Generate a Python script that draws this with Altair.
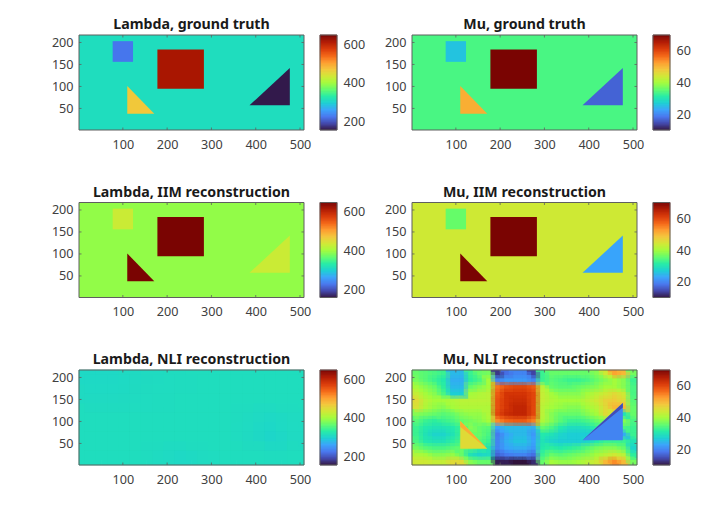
import altair as alt
import pandas as pd

# ---- geometry of the image grid ----
X_DOMAIN = [1, 509]
Y_DOMAIN = [1, 217]
X_TICKS = [100, 200, 300, 400, 500]
Y_TICKS = [50, 100, 150, 200]

# ---- colour limits and colour map stops ----
LAMBDA_DOMAIN = [157, 648]
MU_DOMAIN = [10, 70]
LAMBDA_TICKS = [200, 400, 600]
MU_TICKS = [20, 40, 60]
TURBO = ["#30123b", "#4145ab", "#4675ed", "#39a2fc", "#1bcfd4", "#24eca6", "#61fc6c", "#a4fc3b",
         "#d1e834", "#f3c63a", "#fe9b2d", "#f36315", "#d93806", "#b11901", "#7a0402"]

# ---- shapes in image coordinates ----
SQUARE = [77, 123, 156, 203]
BOX = [178, 283, 95, 184]
TRI1_X = [110, 171]
TRI1_Y = [101, 38]
TRI1_BASE = [38, 38]
TRI2_X = [386, 477]
TRI2_Y = [57, 142]
TRI2_BASE = [57, 57]

# ---- values: background, square, box, triangle 1, triangle 2 ----
LAMBDA_TRUTH = [314, 228, 618, 471, 162]
MU_TRUTH = [34, 26, 70, 51, 17]
LAMBDA_IIM = [393, 432, 648, 648, 432]
MU_IIM = [44, 36, 70, 70, 23]

# ---- Lambda NLI: coarse grid, top row first ----
LAMBDA_NLI = [
    [309, 309, 311, 312, 313, 314, 314, 314, 314, 314],
    [311, 311, 312, 313, 314, 314, 314, 314, 314, 314],
    [314, 314, 314, 314, 314, 314, 314, 312, 309, 312],
    [314, 314, 314, 314, 314, 314, 314, 311, 306, 311],
    [314, 314, 314, 312, 309, 312, 314, 314, 313, 314],
]

# ---- Mu NLI: grid, top row first ----
MU_NLI = [
    [36, 35, 34, 33, 25, 25, 33, 36, 37, 13, 18, 20, 20, 14, 33, 36, 36, 36, 36, 36, 38, 44, 52, 50, 37],
    [37, 35, 33, 31, 24, 24, 32, 34, 40, 20, 22, 22, 22, 20, 33, 35, 34, 33, 33, 34, 36, 38, 40, 38, 33],
    [40, 38, 36, 32, 25, 25, 36, 38, 40, 56, 59, 60, 60, 58, 42, 36, 35, 35, 36, 37, 38, 40, 40, 38, 34],
    [43, 40, 38, 34, 27, 27, 40, 41, 42, 58, 62, 62, 62, 60, 43, 40, 38, 38, 38, 40, 42, 44, 46, 44, 34],
    [46, 42, 40, 40, 41, 42, 42, 42, 42, 59, 62, 63, 63, 60, 43, 41, 40, 40, 40, 42, 44, 47, 48, 46, 35],
    [45, 41, 39, 38, 40, 41, 41, 41, 41, 59, 62, 64, 64, 60, 42, 40, 39, 38, 38, 40, 42, 46, 50, 50, 36],
    [38, 37, 36, 35, 36, 38, 39, 39, 41, 60, 63, 64, 64, 60, 42, 38, 36, 36, 36, 38, 40, 46, 44, 30, 36],
    [35, 33, 32, 33, 34, 36, 37, 38, 40, 54, 57, 58, 58, 55, 41, 38, 35, 33, 33, 34, 36, 38, 38, 38, 34],
    [33, 31, 30, 30, 31, 33, 38, 36, 35, 23, 25, 25, 25, 24, 36, 34, 31, 29, 29, 30, 32, 34, 34, 34, 33],
    [33, 30, 28, 28, 30, 33, 36, 36, 34, 19, 23, 25, 25, 22, 31, 30, 28, 27, 27, 27, 26, 24, 24, 24, 33],
    [34, 31, 30, 30, 32, 34, 35, 35, 33, 20, 24, 26, 26, 23, 30, 28, 27, 27, 27, 28, 31, 33, 33, 33, 30],
    [37, 35, 34, 34, 35, 36, 34, 32, 30, 20, 23, 24, 24, 22, 31, 32, 31, 32, 33, 35, 37, 38, 38, 36, 28],
    [41, 40, 38, 38, 39, 36, 30, 28, 29, 17, 19, 20, 20, 18, 33, 36, 35, 36, 37, 38, 40, 42, 44, 42, 32],
    [44, 44, 43, 43, 46, 46, 38, 36, 36, 11, 11, 10, 10, 12, 36, 40, 39, 39, 40, 42, 44, 50, 54, 50, 37],
]
# Mu NLI: triangle details
MU_NLI_TRI1 = 46
MU_NLI_TRI2 = 20
MU_NLI_TRI1_EDGE = [[101, 38], [88, 38], 51]
MU_NLI_TRI2_EDGE = [[57, 142], [57, 132], 15]

FONT = "Noto Sans"
TEXT = "#404040"
FRAME = "#5f5f5f"
W, H = 225, 95
GAP, CW, TICK = 16, 17, 2.5


def grid_frame(rows, shift=0.0):
    nr, nc = len(rows), len(rows[0])
    dx = (X_DOMAIN[1] - X_DOMAIN[0]) / nc
    dy = (Y_DOMAIN[1] - Y_DOMAIN[0]) / nr
    out = []
    for r, row in enumerate(rows):
        for c, v in enumerate(row):
            out.append({
                "x0": X_DOMAIN[0] + (c + shift) * dx, "x1": X_DOMAIN[0] + (c + 1 + shift) * dx,
                "y1": Y_DOMAIN[1] - (r + shift) * dy, "y0": Y_DOMAIN[1] - (r + 1 + shift) * dy,
                "v": v,
            })
    return pd.DataFrame(out)


def rect_frame(values):
    bg, sq, bx = values[:3]
    return pd.DataFrame([
        {"x0": X_DOMAIN[0], "x1": X_DOMAIN[1], "y0": Y_DOMAIN[0], "y1": Y_DOMAIN[1], "v": bg},
        {"x0": SQUARE[0], "x1": SQUARE[1], "y0": SQUARE[2], "y1": SQUARE[3], "v": sq},
        {"x0": BOX[0], "x1": BOX[1], "y0": BOX[2], "y1": BOX[3], "v": bx},
    ])


def panel(title, cells, domain, ticks, tris=None, seam=0, soft=()):
    xscale = alt.Scale(domain=X_DOMAIN, nice=False, zero=False)
    yscale = alt.Scale(domain=Y_DOMAIN, nice=False, zero=False)
    stops = [domain[0] + (domain[1] - domain[0]) * i / (len(TURBO) - 1) for i in range(len(TURBO))]
    cscale = alt.Scale(domain=stops, range=TURBO, clamp=True, interpolate="rgb")
    color = alt.Color("v:Q", scale=cscale, legend=None)
    xaxis = alt.Axis(values=X_TICKS, tickSize=0, domain=False, grid=False, labelPadding=8)
    layers = [alt.Chart(cells).mark_rect(strokeWidth=seam).encode(
        x=alt.X("x0:Q", scale=xscale, title=None, axis=xaxis),
        x2="x1:Q",
        y=alt.Y("y0:Q", scale=yscale, title=None,
                axis=alt.Axis(values=Y_TICKS, tickSize=0, domain=False, grid=False, labelPadding=6)),
        y2="y1:Q",
        color=color,
        stroke=alt.Stroke("v:Q", scale=cscale, legend=None),
    )]
    # the same grid, a quarter cell to either side, softens the cell edges
    for frame, alpha in soft:
        layers.append(alt.Chart(frame).mark_rect(strokeWidth=0, opacity=alpha, clip=True).encode(
            x=alt.X("x0:Q", scale=xscale, title=None, axis=xaxis),
            x2="x1:Q",
            y=alt.Y("y0:Q", scale=yscale, axis=None),
            y2="y1:Q",
            color=color,
        ))
    for xs, ys, base, v in (tris or []):
        df = pd.DataFrame({"x": xs, "y": ys, "b": base, "v": [v, v]})
        layers.append(alt.Chart(df).mark_area(orient="vertical", interpolate="linear", opacity=1).encode(
            x=alt.X("x:Q", scale=xscale, title=None, axis=xaxis),
            y=alt.Y("y:Q", scale=yscale, axis=None),
            y2="b:Q",
            color=color,
        ))
    # inward tick marks on all four sides
    xs = pd.DataFrame({"t": X_TICKS})
    ys = pd.DataFrame({"t": Y_TICKS})
    rule = dict(color=FRAME, strokeWidth=0.8)
    for a, b in ((0, TICK), (H, H - TICK)):
        layers.append(alt.Chart(xs).mark_rule(**rule).encode(
            x=alt.X("t:Q", scale=xscale, title=None, axis=xaxis), y=alt.value(a), y2=alt.value(b)))
    for a, b in ((0, TICK), (W, W - TICK)):
        layers.append(alt.Chart(ys).mark_rule(**rule).encode(
            y=alt.Y("t:Q", scale=yscale, axis=None), x=alt.value(a), x2=alt.value(b)))
    layers.append(alt.Chart(pd.DataFrame({"a": [0]})).mark_rect(
        filled=False, stroke=FRAME, strokeWidth=1).encode(
        x=alt.value(0), x2=alt.value(W), y=alt.value(0), y2=alt.value(H)))

    # colour bar, drawn beside the image with a y scale of its own
    n = 128
    step = (domain[1] - domain[0]) / n
    levels = pd.DataFrame({
        "a": [domain[0] + i * step for i in range(n)],
        "b": [domain[0] + (i + 1) * step for i in range(n)],
    })
    levels["v"] = (levels.a + levels.b) / 2
    bar_y = alt.Scale(domain=domain, nice=False, zero=False)
    layers.append(alt.Chart(levels).mark_rect(strokeWidth=0.6).encode(
        x=alt.value(W + GAP), x2=alt.value(W + GAP + CW),
        y=alt.Y("a:Q", scale=bar_y, title=None,
                axis=alt.Axis(orient="right", offset=GAP + CW, values=ticks, tickSize=0,
                              domain=False, grid=False, labelPadding=6)),
        y2="b:Q",
        color=color,
        stroke=alt.Stroke("v:Q", scale=cscale, legend=None),
    ))
    layers.append(alt.Chart(pd.DataFrame({"a": [0]})).mark_rect(
        filled=False, stroke=FRAME, strokeWidth=1).encode(
        x=alt.value(W + GAP), x2=alt.value(W + GAP + CW), y=alt.value(0), y2=alt.value(H)))

    return alt.layer(*layers).resolve_scale(y="independent").properties(
        width=W, height=H,
        title=alt.TitleParams(title, fontSize=14.2, fontWeight="bold", font=FONT,
                              color="#1a1a1a", offset=2, anchor="middle"),
    )


def solid_tris(values):
    return [(TRI1_X, TRI1_Y, TRI1_BASE, values[3]), (TRI2_X, TRI2_Y, TRI2_BASE, values[4])]


def softened(rows):
    return [(grid_frame(rows, shift=-0.25), 1), (grid_frame(rows, shift=0.25), 0.5)]


panels = [
    panel("Lambda, ground truth", rect_frame(LAMBDA_TRUTH), LAMBDA_DOMAIN, LAMBDA_TICKS, solid_tris(LAMBDA_TRUTH)),
    panel("Mu, ground truth", rect_frame(MU_TRUTH), MU_DOMAIN, MU_TICKS, solid_tris(MU_TRUTH)),
    panel("Lambda, IIM reconstruction", rect_frame(LAMBDA_IIM), LAMBDA_DOMAIN, LAMBDA_TICKS, solid_tris(LAMBDA_IIM)),
    panel("Mu, IIM reconstruction", rect_frame(MU_IIM), MU_DOMAIN, MU_TICKS, solid_tris(MU_IIM)),
    panel("Lambda, NLI reconstruction", grid_frame(LAMBDA_NLI), LAMBDA_DOMAIN, LAMBDA_TICKS, seam=0.6,
          soft=softened(LAMBDA_NLI)),
    panel("Mu, NLI reconstruction", grid_frame(MU_NLI), MU_DOMAIN, MU_TICKS,
          [(TRI1_X, TRI1_Y, TRI1_BASE, MU_NLI_TRI1),
           (TRI1_X, MU_NLI_TRI1_EDGE[0], MU_NLI_TRI1_EDGE[1], MU_NLI_TRI1_EDGE[2]),
           (TRI2_X, TRI2_Y, TRI2_BASE, MU_NLI_TRI2),
           (TRI2_X, MU_NLI_TRI2_EDGE[0], MU_NLI_TRI2_EDGE[1], MU_NLI_TRI2_EDGE[2])],
          seam=0.6, soft=softened(MU_NLI)),
]

chart = alt.concat(*panels, columns=2, spacing={"column": 108, "row": 72.5},
                   bounds="flush").resolve_scale(
    color="independent", stroke="independent", x="independent", y="independent"
).properties(
    padding={"left": 43, "top": 10, "right": 0, "bottom": 0}, background="white"
).configure_axis(
    labelFont=FONT, labelFontSize=12.6, labelColor=TEXT
).configure_view(stroke=None)

chart.save("out.html", embed_options={"renderer": "svg", "actions": False})
